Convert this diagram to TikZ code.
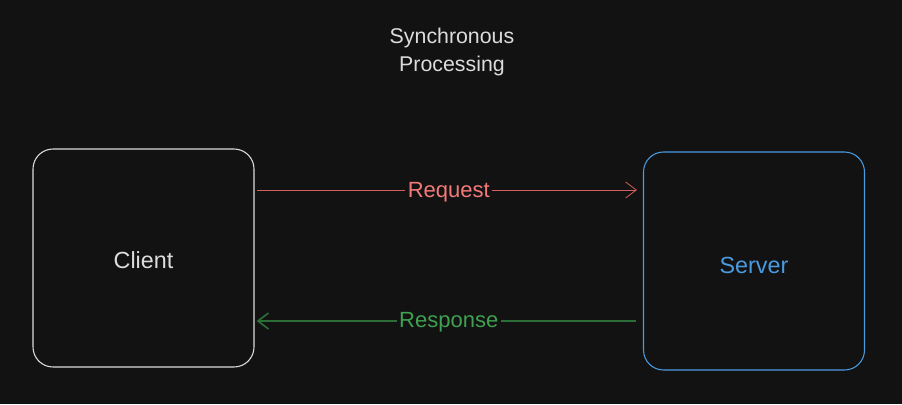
\documentclass[tikz,border=0pt]{standalone}
\usepackage{fontspec}
\setmainfont{Liberation Sans}
\usepackage{tikz}
\usepackage{xcolor}
\usetikzlibrary{positioning, calc, arrows.meta}
\definecolor{bgdark}{HTML}{121212}
\definecolor{clientline}{HTML}{DCDCDC}
\definecolor{serverline}{HTML}{4A9AE0}
\definecolor{reqline}{HTML}{D45F5F}
\definecolor{reqtext}{HTML}{F47A7A}
\definecolor{resline}{HTML}{2C6E38}
\definecolor{restext}{HTML}{3FA050}
\tikzset{
  box/.style={draw,thick,rounded corners=15pt,minimum width=165.75pt,minimum height=163.5pt,font=\fontsize{17.5}{20}\selectfont},
  msg/.style={fill=bgdark,inner sep=2pt,font=\fontsize{16.5}{19}\selectfont},
}
\begin{document}
\begin{tikzpicture}[x=0.75pt,y=-0.75pt]
      \fill[bgdark](0,0)rectangle(902,404);%背景
      \useasboundingbox(0,0)rectangle(902,404);
      \node[align=center,text=clientline,font=\fontsize{16}{21}\selectfont](title)at(452,51.5){Synchronous\\Processing};
      \node[box,draw=clientline,text=clientline](client)at(143.5,258){\smash{\raisebox{-7.75pt}{Client}}};
      \node[box,draw=serverline,text=serverline](server)at(754,261){\smash{\raisebox{-9.25pt}{Server}}};
      \draw[-{Straight Barb[length=8pt,width=12pt]},reqline,semithick,shorten <=2pt,shorten >=4.5pt]
        ([yshift=51pt]client.east)--([yshift=53.25pt]server.west)node[msg,midway,text=reqtext,yshift=-1.5pt]{Request};%要求
      \draw[-{Straight Barb[length=8pt,width=12pt]},resline,very thick,shorten <=5pt,shorten >=1.5pt]
        ([yshift=-45pt]server.west)--([yshift=-47.25pt]client.east)node[msg,midway,text=restext,yshift=-1pt]{Response};%応答
\end{tikzpicture}
\end{document}
